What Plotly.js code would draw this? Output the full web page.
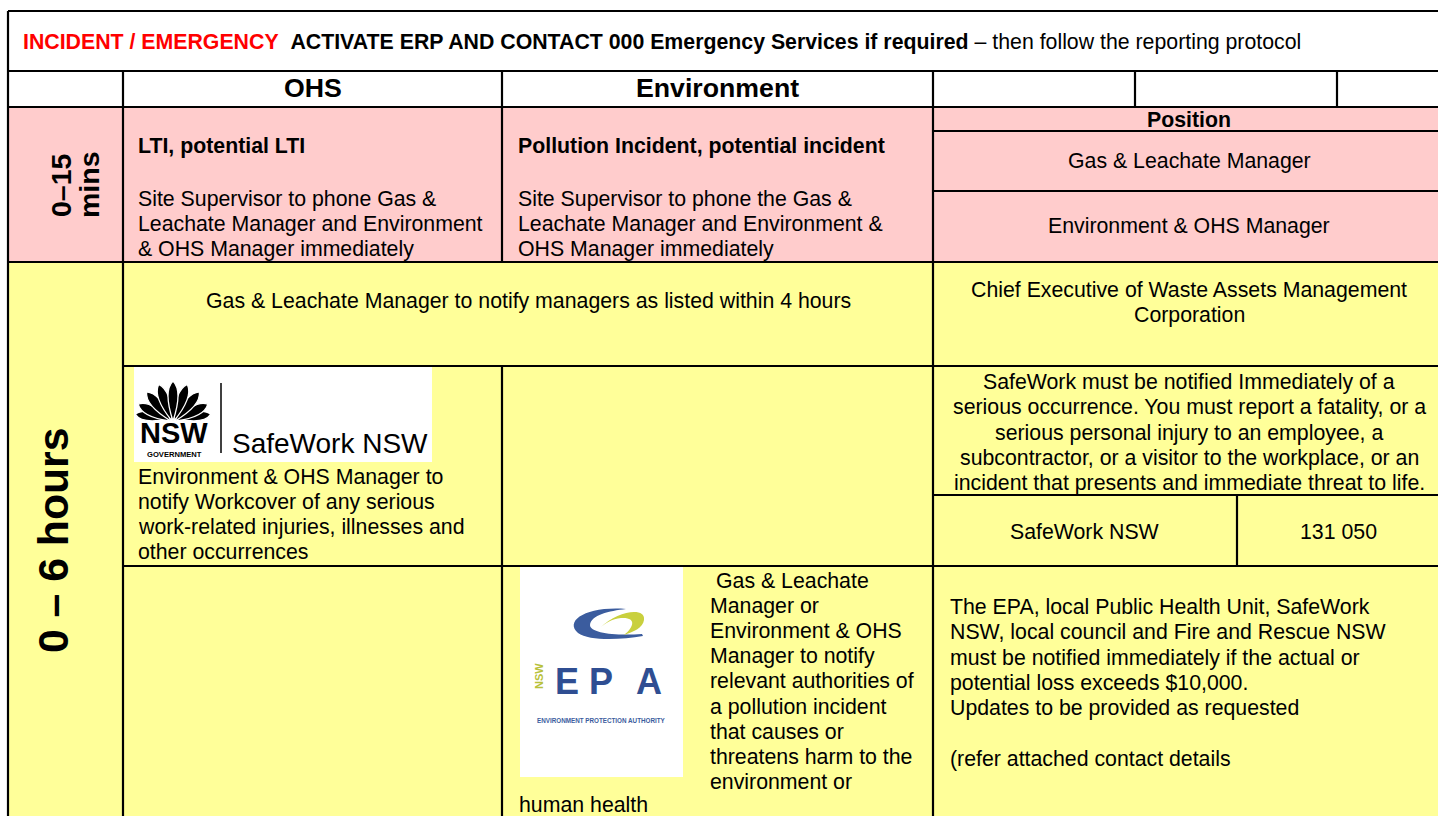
<!DOCTYPE html>
<html>
<head>
<meta charset="utf-8">
<script src="https://cdn.plot.ly/plotly-3.0.1.min.js"></script>
<style>
html,body{margin:0;padding:0;background:#fff;overflow:hidden;}
#chart{width:1438px;height:816px;}
</style>
</head>
<body>
<div id="chart"></div>
<script>
// ---------- DATA (texts of the reporting protocol table) ----------
const alertLabel = "INCIDENT / EMERGENCY";
const alertAction = "ACTIVATE ERP AND CONTACT 000 Emergency Services if required";
const alertTail = " – then follow the reporting protocol";
const columnHeads = ["OHS", "Environment"];
const timeBandShort = ["0–15", "mins"];
const timeBandLong = "0 – 6 hours";
const ohsTitle = "LTI, potential LTI";
const envTitle = "Pollution Incident, potential incident";
const ohsFirstLines = ["Site Supervisor to phone Gas &", "Leachate Manager and Environment", "& OHS Manager immediately"];
const envFirstLines = ["Site Supervisor to phone the Gas &", "Leachate Manager and Environment &", "OHS Manager immediately"];
const positionHead = "Position";
const positions = ["Gas & Leachate Manager", "Environment & OHS Manager"];
const notifyLine = "Gas & Leachate Manager to notify managers as listed within 4 hours";
const chiefLines = ["Chief Executive of Waste Assets Management", "Corporation"];
const safeworkTaskLines = ["Environment & OHS Manager to", "notify Workcover of any serious", "work-related injuries, illnesses and", "other occurrences"];
const safeworkRuleLines = ["SafeWork must be notified Immediately of a", "serious occurrence. You must report a fatality, or a", "serious personal injury to an employee, a", "subcontractor, or a visitor to the workplace, or an", "incident that presents and immediate threat to life."];
const contactNames = ["SafeWork NSW"];
const contactNumbers = ["131 050"];
const epaTaskLines = ["Gas & Leachate", "Manager or", "Environment & OHS", "Manager to notify", "relevant authorities of", "a pollution incident", "that causes or", "threatens harm to the", "environment or"];
const epaTaskTail = "human health";
const epaRuleLines = ["The EPA, local Public Health Unit, SafeWork", "NSW, local council and Fire and Rescue NSW", "must be notified immediately if the actual or", "potential loss exceeds $10,000.", "Updates to be provided as requested", "", "(refer attached contact details"];
const safeworkLogoText = ["NSW", "GOVERNMENT", "SafeWork NSW"];
const epaLogoText = ["E", "P", "A", "NSW", "ENVIRONMENT PROTECTION AUTHORITY"];

// ---------- LAYOUT / STYLE ----------
const FONT = "Liberation Sans, Arial, Helvetica, sans-serif";
const FS = 21.3;
const PINK = "#FFCCCC", YELLOW = "#FFFF99", INK = "#000000";
const XR = 1460; // table continues past the right edge
const shapes = [];
const annotations = [];

function rect(x0, y0, x1, y1, fill) {
  shapes.push({type: "rect", xref: "x", yref: "y", x0, y0, x1, y1, fillcolor: fill, line: {width: 0}, layer: "below"});
}
function hline(y, x0, x1, w) {
  shapes.push({type: "line", xref: "x", yref: "y", x0, x1, y0: y, y1: y, line: {color: INK, width: w || 2.2}});
}
function vline(x, y0, y1, w) {
  shapes.push({type: "line", xref: "x", yref: "y", x0: x, x1: x, y0, y1, line: {color: INK, width: w || 2.2}});
}
function path(d, fill, lineColor, lw) {
  shapes.push({type: "path", xref: "x", yref: "y", path: d, fillcolor: fill, line: {color: lineColor || fill, width: lw || 0}, layer: "below"});
}
function txt(text, x, y, o) {
  o = o || {};
  annotations.push({
    xref: "x", yref: "y", x, y, text, showarrow: false,
    xanchor: o.xa || "left", yanchor: "middle",
    textangle: o.angle || 0,
    font: {family: o.family || FONT, size: o.size || FS, color: o.color || INK},
    borderpad: 0
  });
}
function lines(arr, x, y0, step, o) {
  arr.forEach((t, i) => { if (t) txt(t, (o && o.firstX !== undefined && i === 0) ? o.firstX : x, y0 + i * step, o); });
}

// cell backgrounds
rect(8, 11, XR, 107, "#FFFFFF");
rect(8, 107, XR, 262, PINK);
rect(8, 262, XR, 830, YELLOW);

// ---------- LOGOS ----------
// SafeWork NSW logo
rect(134, 367, 432, 462, "#FFFFFF");
(function waratah() {
  const bx = 173, by = 421;
  function petal(ang, len, wid, ox, oy) {
    const a = ang * Math.PI / 180;
    const dx = Math.sin(a), dy = -Math.cos(a);
    const px = -dy, py = dx;
    const sx = bx + (ox || 0), sy = by + (oy || 0);
    const tx = sx + dx * len, ty = sy + dy * len;
    const c1x = sx + dx * len * 0.75 + px * wid, c1y = sy + dy * len * 0.75 + py * wid;
    const c2x = sx + dx * len * 0.75 - px * wid, c2y = sy + dy * len * 0.75 - py * wid;
    return `M ${sx} ${sy} Q ${c1x} ${c1y} ${tx} ${ty} Q ${c2x} ${c2y} ${sx} ${sy} Z`;
  }
  const specs = [[-82, 33, 9, -5, -2], [82, 33, 9, 5, -2], [-62, 36, 10, -3, 0], [62, 36, 10, 3, 0],
                 [-40, 38, 10, -2, 0], [40, 38, 10, 2, 0], [-20, 39, 10, -1, 0], [20, 39, 10, 1, 0], [0, 40, 10, 0, 0]];
  specs.forEach(s => path(petal(s[0], s[1], s[2], s[3], s[4]), INK, "#FFFFFF", 1.3));
})();
vline(221, 383, 453, 1.5);
txt("<b>" + safeworkLogoText[0] + "</b>", 174, 433, {xa: "center", size: 29});
txt("<b>" + safeworkLogoText[1] + "</b>", 174, 454, {xa: "center", size: 7.6});
txt(safeworkLogoText[2], 231, 443, {size: 28});

// NSW EPA logo
rect(520, 566, 683, 777, "#FFFFFF");
path("M 626 609 C 586 606 564 621 578 633 C 589 641 620 640 643 636 L 642 634 C 615 636 590 633 590 625 C 591 615 609 611 626 609 Z", "#3B5C9E");
path("M 600 628 C 618 610 646 607 644 620 C 643 628 633 632 624 635 C 634 627 637 617 621 618 C 612 619 605 623 600 628 Z", "#C9D03E");
txt("<b>" + epaLogoText[0] + "</b>", 567, 681, {xa: "center", size: 36, color: "#2F4E92"});
txt("<b>" + epaLogoText[1] + "</b>", 601, 681, {xa: "center", size: 36, color: "#2F4E92"});
txt("<b>" + epaLogoText[2] + "</b>", 649, 681, {xa: "center", size: 36, color: "#2F4E92"});
txt("<b>" + epaLogoText[3] + "</b>", 539, 676, {xa: "center", size: 11, color: "#B8C13A", angle: -90});
txt("<b>" + epaLogoText[4] + "</b>", 601, 720, {xa: "center", size: 6.3, color: "#3B5C9E"});

// ---------- GRID LINES ----------
[11, 71, 107, 262].forEach(y => hline(y, 8, XR));
[131, 191, 495].forEach(y => hline(y, 933, XR));
[366, 566].forEach(y => hline(y, 123, XR));
vline(8, 11, 830);
vline(123, 71, 830);
vline(502, 71, 262); vline(502, 366, 830);
vline(933, 71, 830);
vline(1135, 71, 107); vline(1337, 71, 107);
vline(1237, 495, 566);

// ---------- TEXT ----------
txt('<span style="color:#FF0000"><b>' + alertLabel + '</b></span>  <b>' + alertAction + '</b>' + alertTail, 22, 42);
txt("<b>" + columnHeads[0] + "</b>", 312.5, 88, {xa: "center", size: 26.7});
txt("<b>" + columnHeads[1] + "</b>", 717.5, 88, {xa: "center", size: 26.7});

txt("<b>" + timeBandShort[0] + "</b>", 61, 185, {xa: "center", size: 28.5, angle: -90});
txt("<b>" + timeBandShort[1] + "</b>", 89, 185, {xa: "center", size: 28.5, angle: -90});
txt("<b>" + timeBandLong + "</b>", 53, 541, {xa: "center", size: 42.7, angle: -90});

txt("<b>" + ohsTitle + "</b>", 137, 146);
txt("<b>" + envTitle + "</b>", 517, 146);
lines(ohsFirstLines, 137, 199, 25);
lines(envFirstLines, 517, 199, 25);

txt("<b>" + positionHead + "</b>", 1189, 120, {xa: "center"});
txt(positions[0], 1189, 161, {xa: "center"});
txt(positions[1], 1189, 226, {xa: "center"});

txt(notifyLine, 528, 301, {xa: "center"});
lines(chiefLines, 1189, 290, 25, {xa: "center"});

lines(safeworkTaskLines, 137, 477, 25);
lines(safeworkRuleLines, 1189, 382, 25.25, {xa: "center"});
txt(contactNames[0], 1085, 532, {xa: "center"});
txt(contactNumbers[0], 1338, 532, {xa: "center"});

lines(epaTaskLines, 709, 581, 25.1, {firstX: 715});
txt(epaTaskTail, 518, 805);
lines(epaRuleLines, 949, 607, 25.3);

const layout = {
  width: 1438, height: 816,
  margin: {l: 0, r: 0, t: 0, b: 0, pad: 0},
  paper_bgcolor: "#FFFFFF", plot_bgcolor: "#FFFFFF",
  xaxis: {range: [0, 1438], visible: false, fixedrange: true},
  yaxis: {range: [816, 0], visible: false, fixedrange: true},
  showlegend: false,
  shapes, annotations
};
Plotly.newPlot("chart", [{type: "scatter", x: [], y: [], mode: "markers", hoverinfo: "skip"}], layout, {staticPlot: true, displayModeBar: false});
</script>
</body>
</html>
